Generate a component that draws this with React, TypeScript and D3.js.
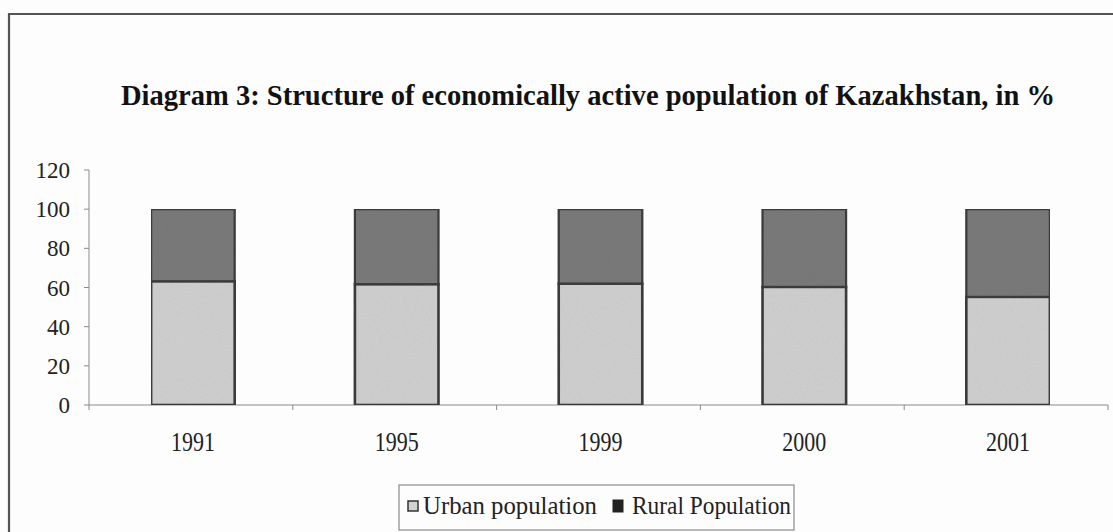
import React from "react";
import * as d3 from "d3";

// Economically active population of Kazakhstan, shares in %
const years = ["1991", "1995", "1999", "2000", "2001"];
const urban = [63.2, 61.7, 62.0, 60.3, 55.2];
const rural = [36.8, 38.3, 38.0, 39.7, 44.8];
const yTicks = [0, 20, 40, 60, 80, 100, 120];
const seriesNames = ["Urban population", "Rural Population"];

const W = 1113;
const H = 532;
const plot = { left: 89, right: 1108, top: 170, bottom: 405 };
const serif = "'Liberation Serif', 'Times New Roman', serif";

export default function App() {
  const x = d3
    .scaleBand<string>()
    .domain(years)
    .range([plot.left + 2, plot.right + 2])
    .paddingInner(0.59)
    .paddingOuter(0.295);
  const y = d3.scaleLinear().domain([0, 120]).range([plot.bottom, plot.top]);
  const bandStep = (plot.right - plot.left) / years.length;

  const stacked = years.map((yr, i) => ({
    yr,
    u0: 0,
    u1: urban[i],
    r0: urban[i],
    r1: urban[i] + rural[i],
  }));

  return (
    <svg
      width={W}
      height={H}
      style={{ position: "absolute", left: 0, top: 0, background: "#fdfdfd" }}
    >
      <defs>
        <filter id="grain" x="0" y="0" width="100%" height="100%">
          <feTurbulence type="fractalNoise" baseFrequency="0.9" numOctaves="2" seed="3" result="n" />
          <feColorMatrix
            in="n"
            type="matrix"
            values="0 0 0 0 0  0 0 0 0 0  0 0 0 0 0  0 0 0 0.12 0"
            result="a"
          />
          <feComposite in="a" in2="SourceGraphic" operator="in" result="b" />
          <feMerge>
            <feMergeNode in="SourceGraphic" />
            <feMergeNode in="b" />
          </feMerge>
        </filter>
      </defs>

      {/* outer frame */}
      <path d={`M9,${H + 5} L9,14 L${W + 5},14`} fill="none" stroke="#555" strokeWidth={2.2} />

      {/* title */}
      <text
        x={588}
        y={105}
        textAnchor="middle"
        fontFamily={serif}
        fontWeight="bold"
        fontSize={29}
        textLength={934}
        lengthAdjust="spacingAndGlyphs"
        fill="#111"
      >
        Diagram 3: Structure of economically active population of Kazakhstan, in %
      </text>

      {/* y axis */}
      <line x1={plot.left} x2={plot.left} y1={y(120)} y2={y(0)} stroke="#8a8a8a" strokeWidth={1} />
      {yTicks.map((t) => (
        <g key={t}>
          <line x1={plot.left - 5} x2={plot.left} y1={y(t)} y2={y(t)} stroke="#8a8a8a" strokeWidth={1} />
          <text
            x={plot.left - 19}
            y={y(t)}
            dy="0.35em"
            textAnchor="end"
            fontFamily={serif}
            fontSize={23}
            fill="#222"
          >
            {t}
          </text>
        </g>
      ))}

      {/* x axis */}
      <line x1={plot.left} x2={plot.right} y1={y(0)} y2={y(0)} stroke="#8a8a8a" strokeWidth={1} />
      {d3.range(years.length + 1).map((k) => (
        <line
          key={k}
          x1={plot.left + k * bandStep}
          x2={plot.left + k * bandStep}
          y1={y(0)}
          y2={y(0) + 5}
          stroke="#8a8a8a"
          strokeWidth={1}
        />
      ))}
      {years.map((yr) => (
        <text
          key={yr}
          transform={`translate(${(x(yr) as number) + x.bandwidth() / 2},451) scale(1,1.2)`}
          textAnchor="middle"
          fontFamily={serif}
          fontSize={22}
          fill="#222"
        >
          {yr}
        </text>
      ))}

      {/* stacked bars */}
      <g filter="url(#grain)">
        {stacked.map((d) => (
          <g key={d.yr}>
            <rect
              x={x(d.yr)}
              y={y(d.u1)}
              width={x.bandwidth()}
              height={y(d.u0) - y(d.u1)}
              fill="#d2d2d2"
              stroke="#3c3c3c"
              strokeWidth={2.6}
            />
            <rect
              x={x(d.yr)}
              y={y(d.r1)}
              width={x.bandwidth()}
              height={y(d.r0) - y(d.r1)}
              fill="#7b7b7b"
              stroke="#3c3c3c"
              strokeWidth={2.2}
            />
          </g>
        ))}
      </g>

      {/* legend */}
      <rect x={399} y={485} width={395} height={45} fill="#fdfdfd" stroke="#8a8a8a" strokeWidth={1.2} />
      <rect x={408} y={501} width={10} height={10} fill="#d2d2d2" stroke="#333" strokeWidth={1.5} />
      <text
        x={423}
        y={514}
        fontFamily={serif}
        fontSize={25}
        textLength={174}
        lengthAdjust="spacingAndGlyphs"
        fill="#222"
      >
        {seriesNames[0]}
      </text>
      <rect x={613} y={500} width={10} height={12} fill="#222" stroke="#222" strokeWidth={1} />
      <text
        x={632}
        y={514}
        fontFamily={serif}
        fontSize={25}
        textLength={159}
        lengthAdjust="spacingAndGlyphs"
        fill="#222"
      >
        {seriesNames[1]}
      </text>
    </svg>
  );
}
